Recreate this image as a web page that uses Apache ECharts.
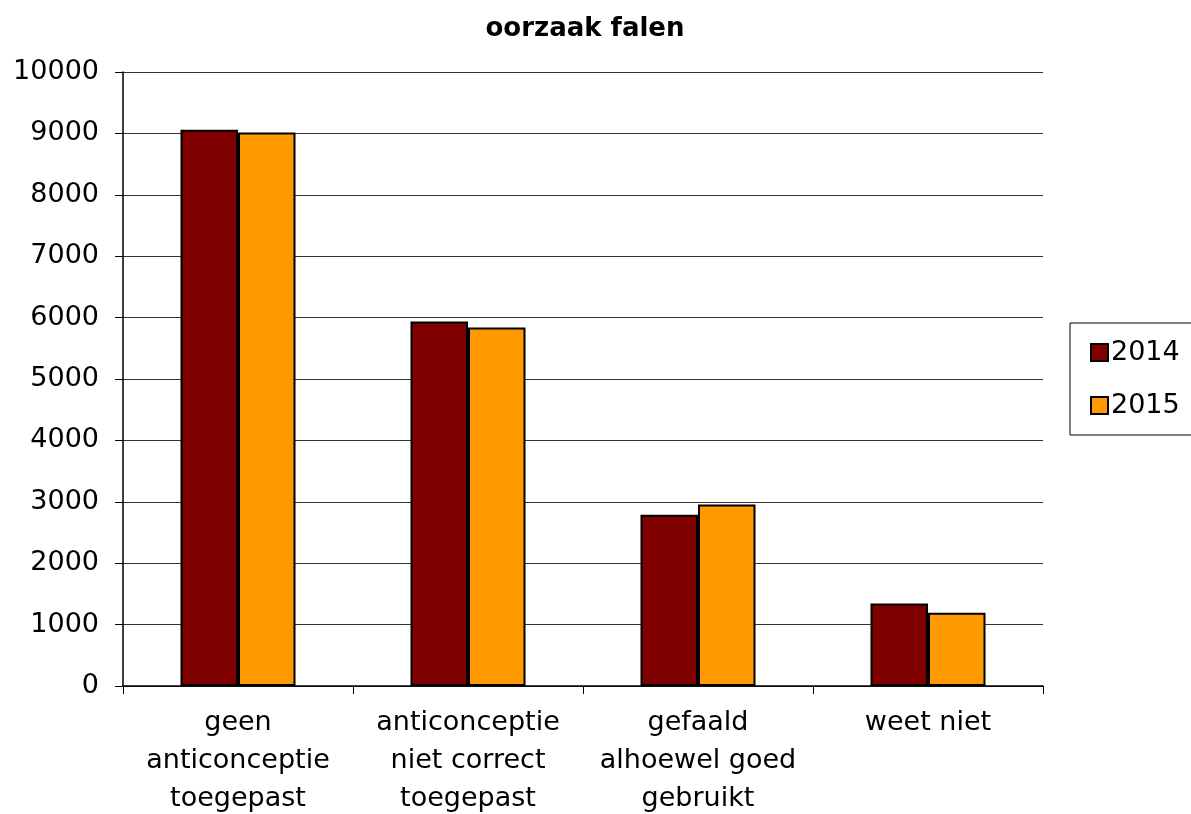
<!DOCTYPE html>
<html>
<head>
<meta charset="utf-8">
<script src="https://cdn.jsdelivr.net/npm/echarts@6/dist/echarts.min.js"></script>
<style>
    html, body { margin: 0; padding: 0; background: #fff; }
    #chart { width: 1191px; height: 814px; }
</style>
</head>
<body>
<div id="chart"></div>
<script>
const categories = [
    'geen\nanticonceptie\ntoegepast',
    'anticonceptie\nniet correct\ntoegepast',
    'gefaald\nalhoewel goed\ngebruikt',
    'weet niet'
]
const values2014 = [9060, 5935, 2790, 1345]
const values2015 = [9015, 5840, 2955, 1195]
const yTicks = { min: 0, max: 10000, interval: 1000 }

const font = '"DejaVu Sans", Arial, sans-serif'
const chart = echarts.init(document.getElementById('chart'))

const barStyle = color => ({
    color,
    borderColor: '#000',
    borderWidth: 2
})

chart.setOption({
    animation: false,
    title: {
        text: 'oorzaak falen',
        left: 580,
        textAlign: 'center',
        top: 11,
        textStyle: { fontFamily: font, fontSize: 26, fontWeight: 'bold', color: '#000' }
    },
    legend: {
        orient: 'vertical',
        left: 1070,
        top: 323,
        padding: [16, 14, 16, 20],
        itemGap: 26,
        itemWidth: 17,
        itemHeight: 17,
        borderColor: '#000',
        borderWidth: 1,
        borderRadius: 0,
        icon: 'rect',
        textStyle: { fontFamily: font, fontSize: 27, color: '#000', padding: [0, 0, 0, -2] },
        data: ['2014', '2015']
    },
    grid: { left: 123, right: 148, top: 72, bottom: 128, outerBoundsMode: 'none' },
    xAxis: {
        type: 'category',
        data: categories,
        axisLine: { lineStyle: { color: '#000', width: 1.5 } },
        axisTick: { show: true, length: 8, lineStyle: { color: '#000' } },
        axisLabel: {
            fontFamily: font, fontSize: 27, color: '#000',
            lineHeight: 38, margin: 18, interval: 0
        }
    },
    yAxis: {
        type: 'value',
        min: yTicks.min,
        max: yTicks.max,
        interval: yTicks.interval,
        axisLine: { show: true, lineStyle: { color: '#000', width: 1.5 } },
        axisTick: { show: true, length: 8, lineStyle: { color: '#000' } },
        splitLine: { lineStyle: { color: '#333', width: 1.2 } },
        axisLabel: {
            fontFamily: font, fontSize: 27, color: '#000', margin: 24,
            formatter: v => String(v)
        }
    },
    series: [
        {
            name: '2014',
            type: 'bar',
            data: values2014,
            barGap: '0%',
            barCategoryGap: '50%',
            itemStyle: barStyle('#800000')
        },
        {
            name: '2015',
            type: 'bar',
            data: values2015,
            itemStyle: barStyle('#ff9900')
        }
    ]
})
</script>
</body>
</html>
